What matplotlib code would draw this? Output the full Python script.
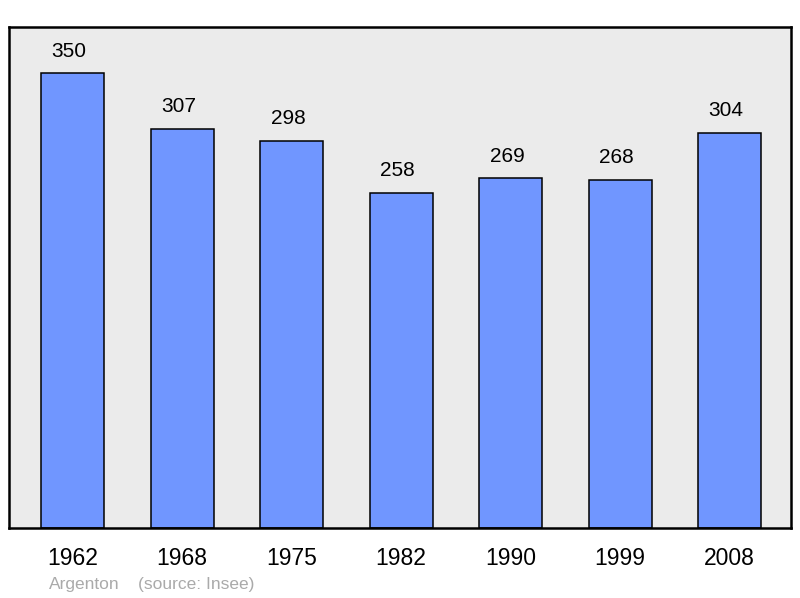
import matplotlib

matplotlib.use("Agg")
import matplotlib.pyplot as plt

years = ["1962", "1968", "1975", "1982", "1990", "1999", "2008"]
population = [350, 307, 298, 258, 269, 268, 304]
commune = "Argenton"
source = "(source: Insee)"

plt.rcParams["font.family"] = ["Liberation Sans", "DejaVu Sans"]

fig = plt.figure(figsize=(8, 5.98), dpi=100)
ax = fig.add_axes([9 / 800, 70 / 598, 782 / 800, 501 / 598])
ax.set_facecolor("#ebebeb")

xs = range(len(years))
ax.bar(xs, population, width=0.575, color="#7096ff", edgecolor="black", linewidth=1.1)

# value labels sit a little left of centre in the original
for x, v in zip(xs, population):
    ax.annotate(str(v), (x, v), xytext=(-2.5, 9), textcoords="offset points",
                ha="center", va="bottom", fontsize=15)

ax.set_xlim(-0.58, 6.56)
ax.set_ylim(0, 385.4)
ax.set_xticks(list(xs))
ax.set_xticklabels(years, fontsize=16.5)
ax.tick_params(axis="x", length=0, pad=14)
ax.set_yticks([])
for s in ax.spines.values():
    s.set_linewidth(1.8)

fig.text(49 / 800, 1 - 585 / 598, commune, color="#aaaaaa", fontsize=12.5, va="center")
fig.text(138 / 800, 1 - 585 / 598, source, color="#aaaaaa", fontsize=12.5, va="center")

fig.savefig("out.png", dpi=100)
